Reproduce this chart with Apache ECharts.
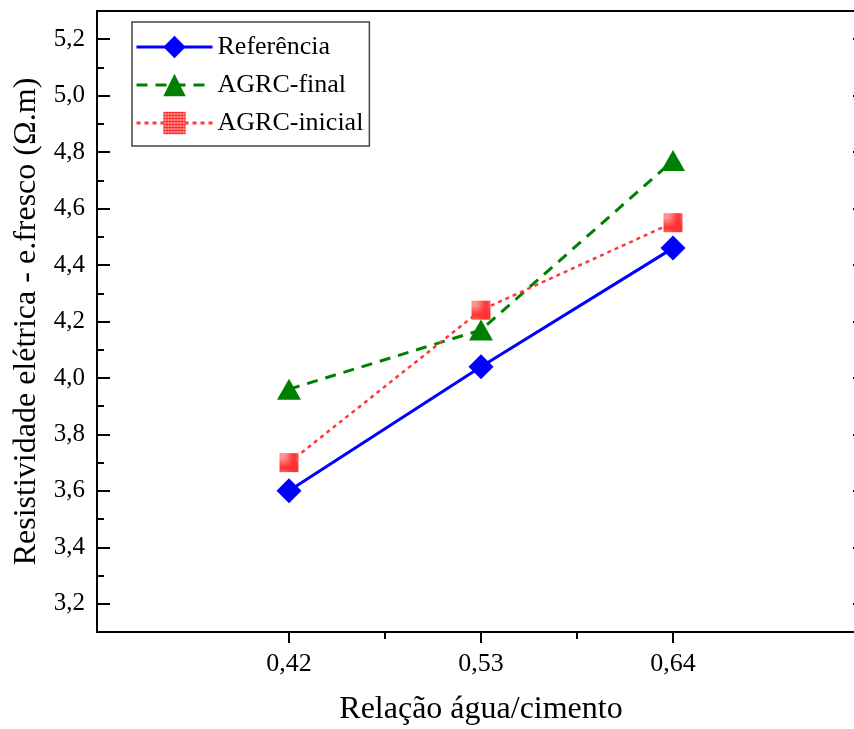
<!DOCTYPE html>
<html>
<head>
<meta charset="utf-8">
<script src="https://cdn.jsdelivr.net/npm/echarts@6/dist/echarts.min.js"></script>
<style>
  html, body { margin: 0; padding: 0; background: #fff; }
  #chart { width: 854px; height: 729px; }
</style>
</head>
<body>
<div id="chart"></div>
<script>
// Water/cement ratios and fresh-state electrical resistivity (Ω.m)
const ratios = [0.42, 0.53, 0.64];
const referencia = [3.60, 4.04, 4.46];
const agrcFinal = [3.96, 4.17, 4.77];
const agrcInicial = [3.70, 4.24, 4.55];

// Tick positions
const yMajorTicks = [3.2, 3.4, 3.6, 3.8, 4.0, 4.2, 4.4, 4.6, 4.8, 5.0, 5.2];
const yMinorTicks = [3.3, 3.5, 3.7, 3.9, 4.1, 4.3, 4.5, 4.7, 4.9, 5.1];
const xMinorTicks = [0.475, 0.585];

const FONT = '"Liberation Serif", "Times New Roman", serif';
const comma = v => Number(v).toFixed(2).replace('.', ',');
const commaY = v => Number(v).toFixed(1).replace('.', ',');

// Cross-hatched fill for the square markers
const hatch = document.createElement('canvas');
hatch.width = 3; hatch.height = 3;
const hctx = hatch.getContext('2d');
hctx.fillStyle = '#ff9090';
hctx.fillRect(0, 0, 3, 3);
hctx.fillStyle = '#ff3030';
hctx.fillRect(0, 0, 3, 1);
hctx.fillRect(0, 0, 1, 3);

const pairs = ys => ratios.map((x, i) => [x, ys[i]]);

const axisLine = { show: true, lineStyle: { color: '#000', width: 2 } };
const xRange = { min: 0.31, max: 0.75 };
const yRange = { min: 3.1, max: 5.3 };

const chart = echarts.init(document.getElementById('chart'), null, { renderer: 'canvas' });
chart.setOption({
  backgroundColor: '#fff',
  animation: false,
  grid: { left: 97, top: 11, width: 768, height: 621, outerBoundsMode: 'none' },
  legend: {
    orient: 'vertical',
    left: 132,
    top: 22,
    padding: [12, 6, 10, 3],
    itemGap: 12,
    itemWidth: 76,
    itemHeight: 28,
    borderColor: '#444',
    borderWidth: 1.5,
    lineStyle: { width: 3 },
    textStyle: { fontFamily: FONT, fontSize: 26, color: '#000' },
    data: ['Referência', 'AGRC-final', 'AGRC-inicial']
  },
  xAxis: [
    {
      type: 'value', position: 'bottom', ...xRange,
      name: 'Relação água/cimento', nameLocation: 'middle', nameGap: 62,
      nameTextStyle: { fontFamily: FONT, fontSize: 32, color: '#000' },
      axisLine,
      axisTick: { show: true, inside: false, length: 11, customValues: ratios, lineStyle: { color: '#000', width: 2 } },
      axisLabel: { show: true, margin: 19, customValues: ratios, formatter: comma, fontFamily: FONT, fontSize: 26, color: '#000' },
      splitLine: { show: false }
    },
    {
      type: 'value', position: 'bottom', ...xRange,
      axisLine: { show: false },
      axisTick: { show: true, inside: false, length: 7, customValues: xMinorTicks, lineStyle: { color: '#000', width: 2 } },
      axisLabel: { show: false },
      splitLine: { show: false }
    },
    {
      type: 'value', position: 'top', ...xRange,
      axisLine,
      axisTick: { show: false },
      axisLabel: { show: false },
      splitLine: { show: false }
    }
  ],
  yAxis: [
    {
      type: 'value', position: 'left', ...yRange,
      name: 'Resistividade elétrica - e.fresco (Ω.m)', nameLocation: 'middle', nameGap: 52,
      nameTextStyle: { fontFamily: FONT, fontSize: 32, color: '#000' },
      axisLine,
      axisTick: { show: true, inside: true, length: 13, customValues: yMajorTicks, lineStyle: { color: '#000', width: 2 } },
      axisLabel: { show: true, margin: 12, customValues: yMajorTicks, formatter: commaY, fontFamily: FONT, fontSize: 25, color: '#000' },
      splitLine: { show: false }
    },
    {
      type: 'value', position: 'left', ...yRange,
      axisLine: { show: false },
      axisTick: { show: true, inside: true, length: 7, customValues: yMinorTicks, lineStyle: { color: '#000', width: 2 } },
      axisLabel: { show: false },
      splitLine: { show: false }
    },
    {
      type: 'value', position: 'right', ...yRange,
      axisLine,
      axisTick: { show: true, inside: true, length: 12, customValues: yMajorTicks, lineStyle: { color: '#000', width: 2 } },
      axisLabel: { show: false },
      splitLine: { show: false }
    }
  ],
  series: [
    {
      name: 'Referência', type: 'line', xAxisIndex: 0, yAxisIndex: 0,
      data: pairs(referencia),
      symbol: 'diamond', symbolSize: 25,
      lineStyle: { color: '#0000ff', width: 3 },
      itemStyle: { color: '#0000ff' }
    },
    {
      name: 'AGRC-final', type: 'line', xAxisIndex: 0, yAxisIndex: 0,
      data: pairs(agrcFinal),
      symbol: 'triangle', symbolSize: [24, 21],
      lineStyle: { color: '#008000', width: 3, type: [11, 8] },
      itemStyle: { color: '#008000' }
    },
    {
      name: 'AGRC-inicial', type: 'line', xAxisIndex: 0, yAxisIndex: 0,
      data: pairs(agrcInicial),
      symbol: 'rect', symbolSize: 19,
      lineStyle: { color: '#ff3838', width: 2.5, type: [4, 4] },
      itemStyle: { color: { image: hatch, repeat: 'repeat' } }
    }
  ]
});
</script>
</body>
</html>
